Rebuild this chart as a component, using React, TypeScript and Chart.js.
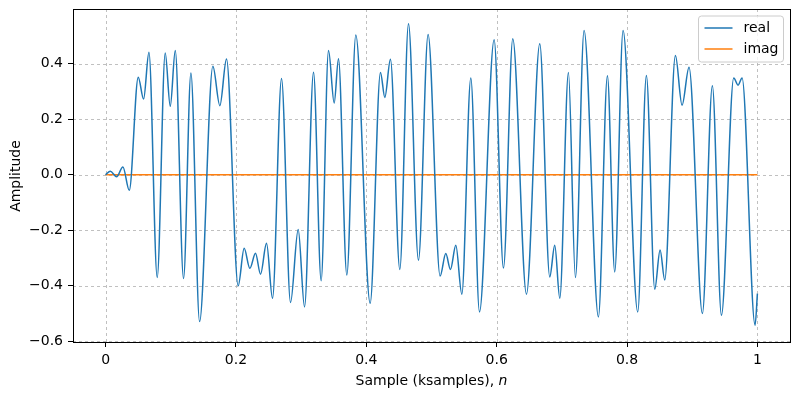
import React, { useEffect, useRef } from "react";
import { Chart, registerables } from "chart.js";

Chart.register(...registerables);

// Sample index (ksamples) and amplitude of the real part at its turning points
const realN = [
  0, 0.0072, 0.0169, 0.0266, 0.0363, 0.0501, 0.0583, 0.0665,
  0.0792, 0.0915, 0.0992, 0.1069, 0.1196, 0.1309,
  0.1442, 0.1646, 0.1753, 0.1855, 0.2034, 0.2126, 0.2213, 0.23,
  0.2377, 0.2469, 0.2561, 0.2699, 0.2837, 0.2955, 0.3052,
  0.319, 0.3307, 0.342, 0.3507, 0.3573, 0.3701,
  0.3839, 0.4059, 0.4217, 0.4284, 0.437, 0.4514,
  0.4647, 0.48, 0.4948, 0.5132, 0.5219, 0.5291, 0.5373,
  0.5465, 0.5603, 0.5736, 0.5961, 0.6104,
  0.6247, 0.6457, 0.6661, 0.6814, 0.6891, 0.6968,
  0.7101, 0.7208, 0.7341, 0.7561, 0.7699,
  0.7811, 0.7939, 0.8164, 0.8297, 0.8425, 0.8507,
  0.8578, 0.8742, 0.8844, 0.8951, 0.9156, 0.9309,
  0.9448, 0.9637, 0.9703, 0.9765, 0.9964, 1.0,
];
const realAmp = [
  0, 0.013, -0.007, 0.028, -0.056, 0.352, 0.273, 0.442,
  -0.37, 0.439, 0.247, 0.448, -0.374, 0.367,
  -0.529, 0.391, 0.249, 0.417, -0.4, -0.265, -0.337, -0.283,
  -0.358, -0.247, -0.445, 0.347, -0.46, -0.197, -0.476,
  0.37, -0.382, 0.448, 0.259, 0.418, -0.361,
  0.504, -0.463, 0.369, 0.279, 0.416, -0.341,
  0.544, -0.308, 0.506, -0.365, -0.284, -0.341, -0.254,
  -0.43, 0.349, -0.494, 0.487, -0.336,
  0.49, -0.43, 0.472, -0.368, -0.254, -0.445,
  0.369, -0.37, 0.52, -0.512, 0.357,
  -0.35, 0.52, -0.494, 0.358, -0.412, -0.271,
  -0.379, 0.43, 0.251, 0.388, -0.5, 0.321,
  -0.506, 0.349, 0.323, 0.349, -0.542, -0.428,
];
const imagN = [0, 1];
const imagAmp = [0, 0];

const xTicks = [0, 0.2, 0.4, 0.6, 0.8, 1];
const xTickLabels = ["0", "0.2", "0.4", "0.6", "0.8", "1"];
const yTicks = [-0.6, -0.4, -0.2, 0, 0.2, 0.4];
const yTickLabels = ["\u22120.6", "\u22120.4", "\u22120.2", "0.0", "0.2", "0.4"];

const seriesNames = ["real", "imag"];
const seriesColors = ["#1f77b4", "#ff7f0e"];
const xTitle = "Sample (ksamples), ";
const xTitleVar = "n";
const yTitle = "Amplitude";

const FONT = "DejaVu Sans";

const decorPlugin = {
  id: "decor",
  beforeDatasetsDraw(chart: any) {
    const { ctx, chartArea: a, scales } = chart;
    ctx.save();
    ctx.strokeStyle = "#b0b0b0";
    ctx.lineWidth = 0.8;
    ctx.setLineDash([3, 3]);
    for (const v of xTicks) {
      const px = Math.round(scales.x.getPixelForValue(v)) + 0.5;
      ctx.beginPath();
      ctx.moveTo(px, a.top);
      ctx.lineTo(px, a.bottom);
      ctx.stroke();
    }
    for (const v of yTicks) {
      const py = Math.round(scales.y.getPixelForValue(v)) + 0.5;
      ctx.beginPath();
      ctx.moveTo(a.left, py);
      ctx.lineTo(a.right, py);
      ctx.stroke();
    }
    ctx.restore();
  },
  afterDraw(chart: any) {
    const { ctx, chartArea: a } = chart;
    ctx.save();
    // frame
    ctx.strokeStyle = "#000";
    ctx.lineWidth = 1;
    ctx.setLineDash([]);
    ctx.strokeRect(Math.round(a.left) + 0.5, Math.round(a.top) + 0.5, Math.round(a.right - a.left), Math.round(a.bottom - a.top));

    // x title with italic variable
    ctx.fillStyle = "#000";
    ctx.textBaseline = "middle";
    ctx.font = `14px "${FONT}"`;
    const w1 = ctx.measureText(xTitle).width;
    ctx.font = `italic 14px "${FONT}"`;
    const w2 = ctx.measureText(xTitleVar).width;
    const cx = (a.left + a.right) / 2;
    const sx = cx - (w1 + w2) / 2;
    const ty = 381;
    ctx.textAlign = "left";
    ctx.font = `14px "${FONT}"`;
    ctx.fillText(xTitle, sx, ty);
    ctx.font = `italic 14px "${FONT}"`;
    ctx.fillText(xTitleVar, sx + w1, ty);

    // y title
    ctx.save();
    ctx.translate(16, 176);
    ctx.rotate(-Math.PI / 2);
    ctx.textAlign = "center";
    ctx.font = `14px "${FONT}"`;
    ctx.fillText(yTitle, 0, 0);
    ctx.restore();

    // legend
    const bx = a.right - 91.5;
    const by = a.top + 7;
    const bw = 85;
    const bh = 46;
    const r = 3;
    ctx.beginPath();
    ctx.moveTo(bx + r, by);
    ctx.lineTo(bx + bw - r, by);
    ctx.quadraticCurveTo(bx + bw, by, bx + bw, by + r);
    ctx.lineTo(bx + bw, by + bh - r);
    ctx.quadraticCurveTo(bx + bw, by + bh, bx + bw - r, by + bh);
    ctx.lineTo(bx + r, by + bh);
    ctx.quadraticCurveTo(bx, by + bh, bx, by + bh - r);
    ctx.lineTo(bx, by + r);
    ctx.quadraticCurveTo(bx, by, bx + r, by);
    ctx.closePath();
    ctx.fillStyle = "rgba(255,255,255,0.8)";
    ctx.fill();
    ctx.strokeStyle = "#cccccc";
    ctx.lineWidth = 1;
    ctx.stroke();
    ctx.font = `14px "${FONT}"`;
    ctx.textAlign = "left";
    ctx.textBaseline = "middle";
    seriesNames.forEach((name, i) => {
      const ly = by + 12 + i * 21;
      ctx.strokeStyle = seriesColors[i];
      ctx.lineWidth = 1.5;
      ctx.beginPath();
      ctx.moveTo(bx + 6, ly);
      ctx.lineTo(bx + 34, ly);
      ctx.stroke();
      ctx.fillStyle = "#000";
      ctx.fillText(name, bx + 45, ly);
    });
    ctx.restore();
  },
};

export default function App() {
  const ref = useRef<HTMLCanvasElement | null>(null);
  useEffect(() => {
    document.body.style.margin = "0";
    const canvas = ref.current;
    if (!canvas) return;
    const chart = new Chart(canvas, {
      type: "line",
      data: {
        datasets: [
          {
            label: seriesNames[0],
            data: realN.map((x, i) => ({ x, y: realAmp[i] })),
            borderColor: seriesColors[0],
            borderWidth: 1.5,
            pointRadius: 0,
            cubicInterpolationMode: "monotone",
            fill: false,
          },
          {
            label: seriesNames[1],
            data: imagN.map((x, i) => ({ x, y: imagAmp[i] })),
            borderColor: seriesColors[1],
            borderWidth: 1.5,
            pointRadius: 0,
            fill: false,
          },
        ],
      },
      options: {
        animation: false,
        responsive: false,
        devicePixelRatio: 1,
        layout: { padding: { top: 9, right: 10, left: 0, bottom: 0 } },
        plugins: { legend: { display: false }, tooltip: { enabled: false } },
        scales: {
          x: {
            type: "linear",
            min: -0.05,
            max: 1.05,
            afterBuildTicks: (s: any) => {
              s.ticks = xTicks.map((v) => ({ value: v }));
            },
            afterFit: (s: any) => {
              s.height = 57;
              s.paddingLeft = 0;
              s.paddingRight = 0;
            },
            ticks: {
              autoSkip: false,
              maxRotation: 0,
              padding: 5,
              color: "#000",
              font: { family: FONT, size: 14 },
              callback: (v: any) => {
                const i = xTicks.findIndex((t) => Math.abs(t - v) < 1e-9);
                return i >= 0 ? xTickLabels[i] : "";
              },
            },
            grid: { drawOnChartArea: false, drawTicks: true, tickLength: 5, tickColor: "#000", color: "#000" },
            border: { display: false },
          },
          y: {
            type: "linear",
            min: -0.6025,
            max: 0.5975,
            afterBuildTicks: (s: any) => {
              s.ticks = yTicks.map((v) => ({ value: v }));
            },
            afterFit: (s: any) => {
              s.width = 73;
              s.paddingTop = 0;
              s.paddingBottom = 0;
            },
            ticks: {
              autoSkip: false,
              padding: 5,
              color: "#000",
              font: { family: FONT, size: 14 },
              callback: (v: any) => {
                const i = yTicks.findIndex((t) => Math.abs(t - v) < 1e-9);
                return i >= 0 ? yTickLabels[i] : "";
              },
            },
            grid: { drawOnChartArea: false, drawTicks: true, tickLength: 5, tickColor: "#000", color: "#000" },
            border: { display: false },
          },
        },
      },
      plugins: [decorPlugin],
    } as any);
    return () => chart.destroy();
  }, []);
  return (
    <div style={{ position: "fixed", left: 0, top: 0, width: 800, height: 399, background: "#fff" }}>
      <canvas ref={ref} width={800} height={399} style={{ width: 800, height: 399 }} />
    </div>
  );
}
